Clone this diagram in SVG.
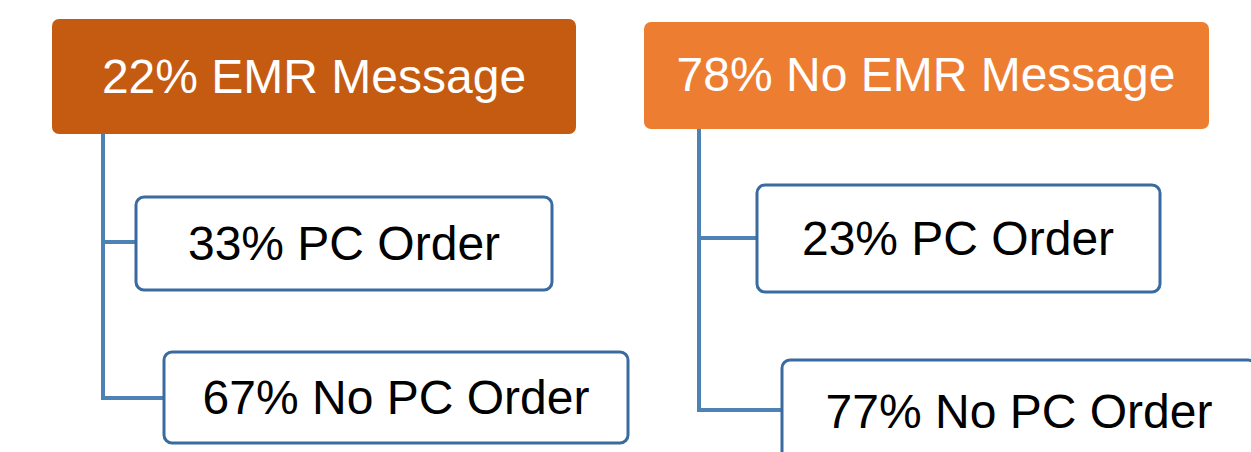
<svg xmlns="http://www.w3.org/2000/svg" width="1251" height="452" viewBox="0 0 1251 452">
<style>
.top{stroke:none}
.child{fill:#fff;stroke:#3A6B9F;stroke-width:3}
.lbl{font-family:"Liberation Sans",Arial,sans-serif;font-size:48px;text-anchor:middle}
.w{fill:#fff}
.k{fill:#000}
.conn{fill:none;stroke:#4E81B4;stroke-width:4}
</style>
<rect width="1251" height="452" fill="#fff"/>
<g id="connectors">
<path class="conn" d="M103 134 V398 H164 M103 242 H136"/>
<path class="conn" d="M699 129 V410 H782 M699 238 H757"/>
</g>
<g id="n1">
<rect x="52" y="19" width="524" height="115" rx="7" fill="#C55A11"/>
<text class="lbl w" x="314" y="93">22% EMR Message</text>
</g>
<g id="n2">
<rect x="644" y="22" width="565" height="107" rx="7" fill="#ED7D31"/>
<text class="lbl w" x="926" y="91">78% No EMR Message</text>
</g>
<g id="n3">
<rect class="child" x="136" y="197" width="416" height="93" rx="8"/>
<text class="lbl k" x="344" y="260">33% PC Order</text>
</g>
<g id="n4">
<rect class="child" x="164" y="352" width="464" height="91" rx="8"/>
<text class="lbl k" x="396" y="414">67% No PC Order</text>
</g>
<g id="n5">
<rect class="child" x="757" y="185" width="403" height="107" rx="8"/>
<text class="lbl k" x="958" y="255">23% PC Order</text>
</g>
<g id="n6">
<rect class="child" x="782" y="360" width="474" height="100" rx="8"/>
<text class="lbl k" x="1019" y="428">77% No PC Order</text>
</g>
</svg>
